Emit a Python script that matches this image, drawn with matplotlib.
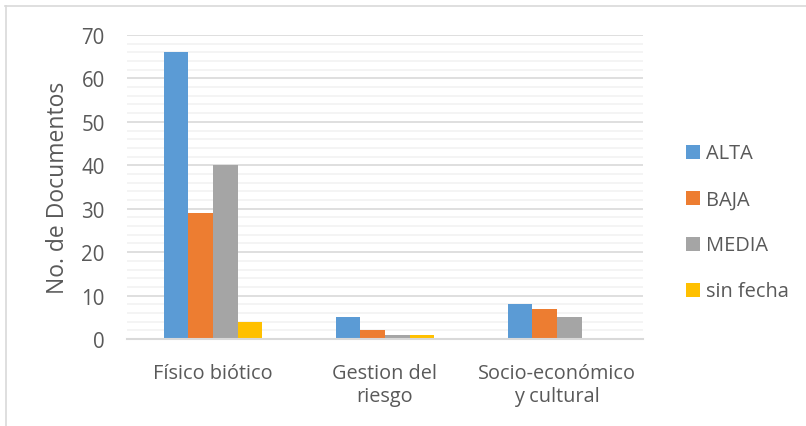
import matplotlib.pyplot as plt
import numpy as np
from matplotlib.patches import Patch
from matplotlib.lines import Line2D

# Datos por categoría y prioridad
categorias = ['Físico biótico', 'Gestion del\nriesgo', 'Socio-económico\ny cultural']
series = ['ALTA', 'BAJA', 'MEDIA', 'sin fecha']
alta = [66, 5, 8]
baja = [29, 2, 7]
media = [40, 1, 5]
sin_fecha = [4, 1, 0]
colores = ['#5B9BD5', '#ED7D31', '#A5A5A5', '#FFC000']

plt.rcParams['font.family'] = ['Open Sans', 'DejaVu Sans']
gris = '#595959'

fig = plt.figure(figsize=(8.06, 4.27), dpi=100)
W, H = 806, 427
ax = fig.add_axes([127 / W, 1 - 340 / H, (643 - 127) / W, (340 - 36) / H])

x = np.arange(len(categorias))
ancho = 0.1425
valores = [alta, baja, media, sin_fecha]
for i, (vals, col) in enumerate(zip(valores, colores)):
    ax.bar(x + (i - 1.5) * ancho, vals, width=ancho, color=col, zorder=3)

ax.set_xlim(-0.5, 2.5)
ax.set_ylim(0, 70)
ax.set_yticks(np.arange(0, 71, 10))
ax.set_yticks(np.arange(0, 71, 2), minor=True)
ax.grid(axis='y', which='major', color='#D9D9D9', linewidth=1.2, zorder=0)
ax.grid(axis='y', which='minor', color='#F2F2F2', linewidth=1.2, zorder=0)
ax.set_xticks(x)
ax.set_xticklabels(categorias, fontsize=14.3, color=gris, linespacing=1.2)
ax.tick_params(axis='y', labelsize=14.8, labelcolor=gris, length=0, pad=16)
ax.tick_params(axis='x', length=0, pad=17, which='both')
ax.tick_params(axis='y', which='minor', length=0)
for s in ['top', 'right', 'left']:
    ax.spines[s].set_visible(False)
ax.spines['bottom'].set_color('#D9D9D9')
ax.spines['bottom'].set_linewidth(1.5)
ax.spines['bottom'].set_zorder(4)
ax.set_ylabel('No. de Documentos', fontsize=16.5, color=gris, labelpad=8)

# Leyenda
handles = [Patch(facecolor=c, edgecolor='none') for c in colores]
leg = fig.legend(handles, series, loc='center left', bbox_to_anchor=(668 / W, 1 - 223.5 / H),
                 frameon=False, fontsize=14.4, labelspacing=1.3, handlelength=0.7,
                 handleheight=0.7, handletextpad=0.3)
for t in leg.get_texts():
    t.set_color(gris)

# Borde del área del gráfico
fig.add_artist(Line2D([5 / W, 1], [1 - 7 / H, 1 - 7 / H], color='#D9D9D9', linewidth=1.2))
fig.add_artist(Line2D([5.5 / W, 5.5 / W], [0, 1 - 7 / H], color='#D9D9D9', linewidth=1.2))

fig.savefig('out.png', dpi=100)
